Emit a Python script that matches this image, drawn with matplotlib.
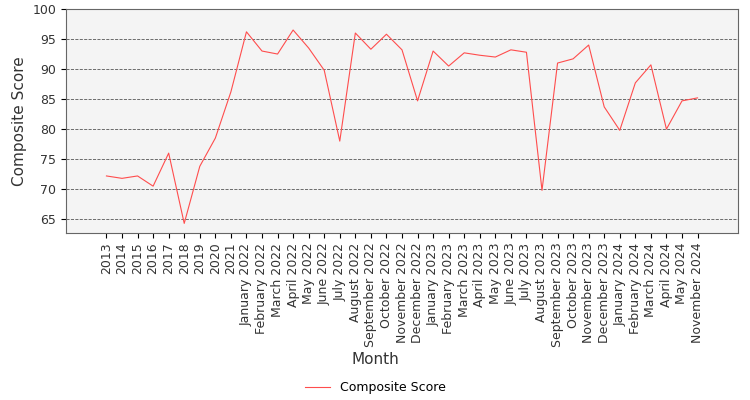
import matplotlib
matplotlib.use('Agg')
import matplotlib.pyplot as plt

# data
months = ['2013', '2014', '2015', '2016', '2017', '2018', '2019', '2020', '2021',
          'January 2022', 'February 2022', 'March 2022', 'April 2022', 'May 2022', 'June 2022',
          'July 2022', 'August 2022', 'September 2022', 'October 2022', 'November 2022',
          'December 2022', 'January 2023', 'February 2023', 'March 2023', 'April 2023',
          'May 2023', 'June 2023', 'July 2023', 'August 2023', 'September 2023',
          'October 2023', 'November 2023', 'December 2023', 'January 2024', 'February 2024',
          'March 2024', 'April 2024', 'May 2024', 'November 2024']
scores = [72.2, 71.8, 72.2, 70.5, 76.0, 64.3, 73.8, 78.5, 86.2,
          96.2, 93.0, 92.5, 96.5, 93.5, 89.8, 78.0, 96.0, 93.3, 95.8, 93.2,
          84.7, 93.0, 90.5, 92.7, 92.3, 92.0, 93.2, 92.8, 69.8, 91.0,
          91.7, 94.0, 83.7, 79.8, 87.7, 90.7, 80.0, 84.7, 85.2]

fig = plt.figure(figsize=(7.5, 4), dpi=100)
ax = fig.add_axes([0.088, 0.4175, 0.896, 0.56])
ax.set_facecolor('#f4f4f4')
x = list(range(len(months)))
ax.plot(x, scores, color='#ff4d4d', linewidth=0.8, label='Composite Score')
ax.set_xticks(x)
ax.set_xticklabels(months, rotation=90, fontsize=9, color='#333333')
ax.set_xlim(-2.6, 40.6)
ax.set_ylim(62.7, 100)
ax.set_yticks(range(65, 101, 5))
ax.tick_params(axis='y', labelsize=9, labelcolor='#333333')
ax.grid(axis='y', linestyle='--', color='#555555', linewidth=0.6)
ax.set_axisbelow(True)
for s in ax.spines.values():
    s.set_color('#666666')
ax.set_ylabel('Composite Score', fontsize=11, color='#333333')
fig.text(0.5, 0.09, 'Month', ha='center', fontsize=11, color='#333333')
fig.legend(loc='center', bbox_to_anchor=(0.5, 0.03), frameon=False, fontsize=9)
fig.savefig('out.png')
